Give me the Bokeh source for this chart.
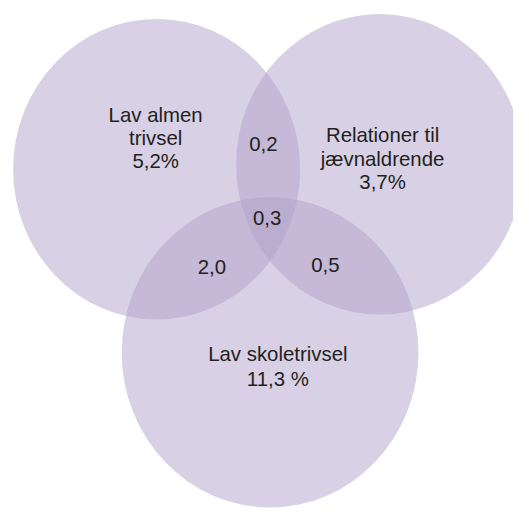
from bokeh.plotting import figure
from bokeh.models import Range1d
from bokeh.core.properties import value
from bokeh.embed import file_html
from bokeh.resources import INLINE

# Venn sets (ellipse centres / radii, in reference pixels)
set_names = ["Lav almen trivsel", "Relationer til jævnaldrende", "Lav skoletrivsel"]
set_cx = [161, 391, 278]
set_cy = [174, 169, 363]
set_rx = [148, 148, 153]
set_ry = [155, 155, 160]

# Label lines for each set
label_lines = ["Lav almen", "trivsel", "5,2%",
               "Relationer til", "jævnaldrende", "3,7%",
               "Lav skoletrivsel", "11,3 %"]
label_x = [160, 160, 160, 394, 394, 394, 286, 286]
label_y = [118, 142, 166, 139, 163, 187, 365, 390]

# Overlap values
overlap_labels = ["0,2", "0,3", "2,0", "0,5"]
overlap_x = [271, 275, 218, 335]
overlap_y = [148, 224, 275, 273]

W, H = 513, 508
p = figure(width=W, height=H, output_backend="svg", toolbar_location=None,
           x_range=Range1d(0, 529), y_range=Range1d(524, 0),
           min_border=0)
p.axis.visible = False
p.grid.visible = False
p.outline_line_color = None
p.background_fill_color = "white"
p.border_fill_color = "white"

p.ellipse(x=set_cx, y=set_cy, width=[2 * r for r in set_rx],
          height=[2 * r for r in set_ry],
          fill_color="#b1a1c9", fill_alpha=0.5, line_color=None)

font = value("Liberation Sans")
p.text(x=label_x, y=label_y, text=label_lines, text_font=font,
       text_font_size="20.4px", text_color="#231f20",
       text_align="center", text_baseline="alphabetic")
p.text(x=overlap_x, y=overlap_y, text=overlap_labels, text_font=font,
       text_font_size="20.4px", text_color="#231f20",
       text_align="center", text_baseline="alphabetic")

open("out.html", "w").write(file_html(p, INLINE))
